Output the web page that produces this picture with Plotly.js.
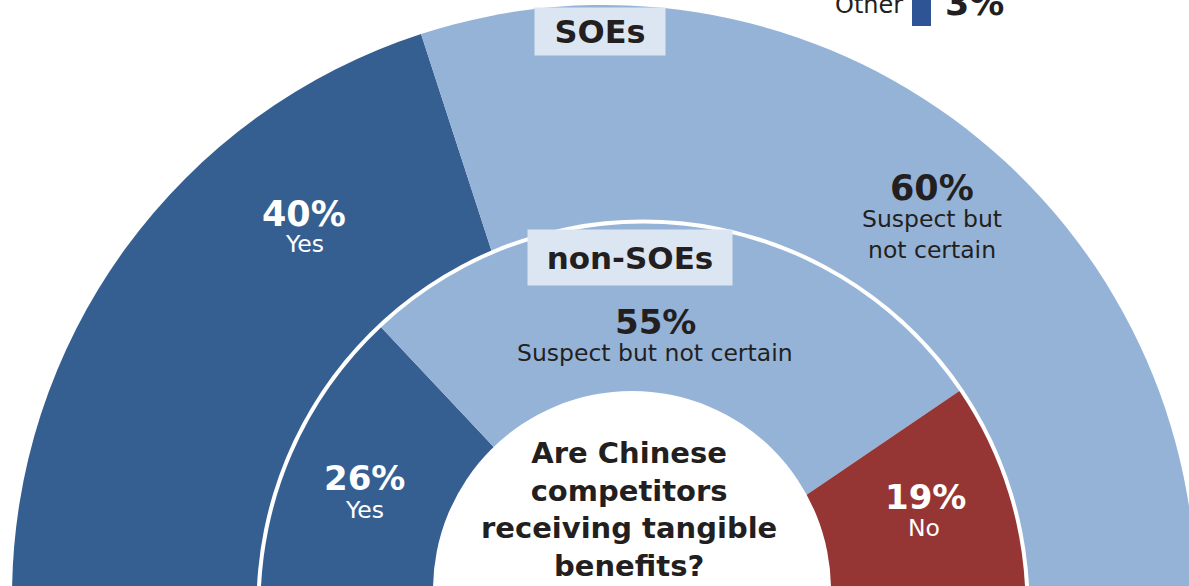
<!DOCTYPE html>
<html><head><meta charset="utf-8">
<script src="https://cdn.plot.ly/plotly-3.0.1.min.js"></script>
<style>
html,body{margin:0;padding:0;overflow:hidden;background:#fff;}
#wrap{width:1189px;height:586px;overflow:hidden;position:relative;}
#chart{width:1300px;height:1250px;position:absolute;left:0;top:0;}
</style></head><body>
<div id="wrap"><div id="chart"></div></div>
<script>
// ---- data ----
const ringNames = ['SOEs', 'non-SOEs'];
const soeCategories = ['Yes', 'Suspect but<br>not certain'];
const soeValues = [40, 60];
const nonSoeCategories = ['Yes', 'Suspect but not certain', 'No'];
const nonSoeValues = [26, 55, 19];
const otherCategory = 'Other';
const otherValue = 3;
const questionLines = ['Are Chinese', 'competitors', 'receiving tangible', 'benefits?'];

// ---- styles / geometry (pixels in the 1300x1250 drawing, page shows the top-left 1189x586) ----
const W = 1300, H = 1250;
const soeColors = ['#365F91', '#95B3D7'];
const nonSoeColors = ['#365F91', '#95B3D7', '#963634'];
const soeTextColors = ['#ffffff', '#231F20'];
const nonSoeTextColors = ['#ffffff', '#231F20', '#ffffff'];
const dark = '#231F20';
const boxBg = '#DCE6F2';
const swatchColor = '#2E5496';
const geom = {
  outer: {cx: 604, cy: 597, r: 592},
  gap:   {cx: 643, cy: 606, r: 386.5},
  inner: {cx: 643, cy: 606, r: 382.5},
  hole:  {cx: 632, cy: 590, r: 199}
};
const soePctPos = [[304, 213.5], [932, 188]];
const soeCatPos = [[304, 244], [932, 234]];
const nonSoePctPos = [[364, 478], [655, 322], [925, 497]];
const nonSoeCatPos = [[364, 510], [655, 352.5], [924, 528]];
const ringBoxes = [
  {cx: 600, cy: 31.5, w: 130, h: 47, size: 32},
  {cx: 630, cy: 257.5, w: 204, h: 55, size: 31}
];
const FAM = 'DejaVu Sans';

const px = x => x / W;
const py = y => 1 - y / H;
function dom(g) {
  return {x: [px(g.cx - g.r), px(g.cx + g.r)], y: [py(g.cy + g.r), py(g.cy - g.r)]};
}
function halfPie(labels, values, cols, g) {
  const total = values.reduce((a, b) => a + b, 0);
  return {
    type: 'pie', labels: labels.concat(['__rest']), values: values.concat([total]),
    marker: {colors: cols.concat(['rgba(0,0,0,0)']), line: {width: 0}},
    sort: false, direction: 'clockwise', rotation: 270,
    textinfo: 'none', hoverinfo: 'skip', showlegend: false, domain: dom(g)
  };
}

const traces = [
  halfPie(soeCategories, soeValues, soeColors, geom.outer),
  halfPie(['gap'], [1], ['#ffffff'], geom.gap),
  halfPie(nonSoeCategories, nonSoeValues, nonSoeColors, geom.inner),
  halfPie(['hole'], [1], ['#ffffff'], geom.hole)
];

const ann = [];
function txt(text, x, y, size, color, bold, extra) {
  ann.push(Object.assign({
    text: text, x: px(x), y: py(y), xref: 'paper', yref: 'paper',
    xanchor: 'center', yanchor: 'middle', showarrow: false,
    font: {family: FAM, size: size, color: color, weight: bold ? 700 : 400}
  }, extra || {}));
}
soeValues.forEach((v, i) => {
  txt(v + '%', soePctPos[i][0], soePctPos[i][1], 35, soeTextColors[i], true);
  txt(soeCategories[i], soeCatPos[i][0], soeCatPos[i][1], 23.5, soeTextColors[i], false);
});
nonSoeValues.forEach((v, i) => {
  txt(v + '%', nonSoePctPos[i][0], nonSoePctPos[i][1], 34, nonSoeTextColors[i], true);
  txt(nonSoeCategories[i], nonSoeCatPos[i][0], nonSoeCatPos[i][1], 23.5, nonSoeTextColors[i], false);
});
ringNames.forEach((n, i) => {
  const b = ringBoxes[i];
  txt(n, b.cx, b.cy, b.size, dark, true, {width: b.w, height: b.h, bgcolor: boxBg, borderpad: 0});
});
txt(questionLines.join('<br>'), 629, 509, 29, dark, true);
txt(otherCategory, 905, 5, 24, dark, false, {xanchor: 'right'});
txt(otherValue + '%', 943, 3, 35, dark, true, {xanchor: 'left'});

const layout = {
  width: W, height: H, margin: {l: 0, r: 0, t: 0, b: 0},
  paper_bgcolor: '#ffffff', plot_bgcolor: '#ffffff', showlegend: false,
  annotations: ann,
  shapes: [{type: 'rect', xref: 'paper', yref: 'paper', x0: px(912), x1: px(931), y0: py(26), y1: py(-10),
            fillcolor: swatchColor, line: {width: 0}, layer: 'above'}]
};
Plotly.newPlot('chart', traces, layout, {staticPlot: true, displayModeBar: false});
</script></body></html>
